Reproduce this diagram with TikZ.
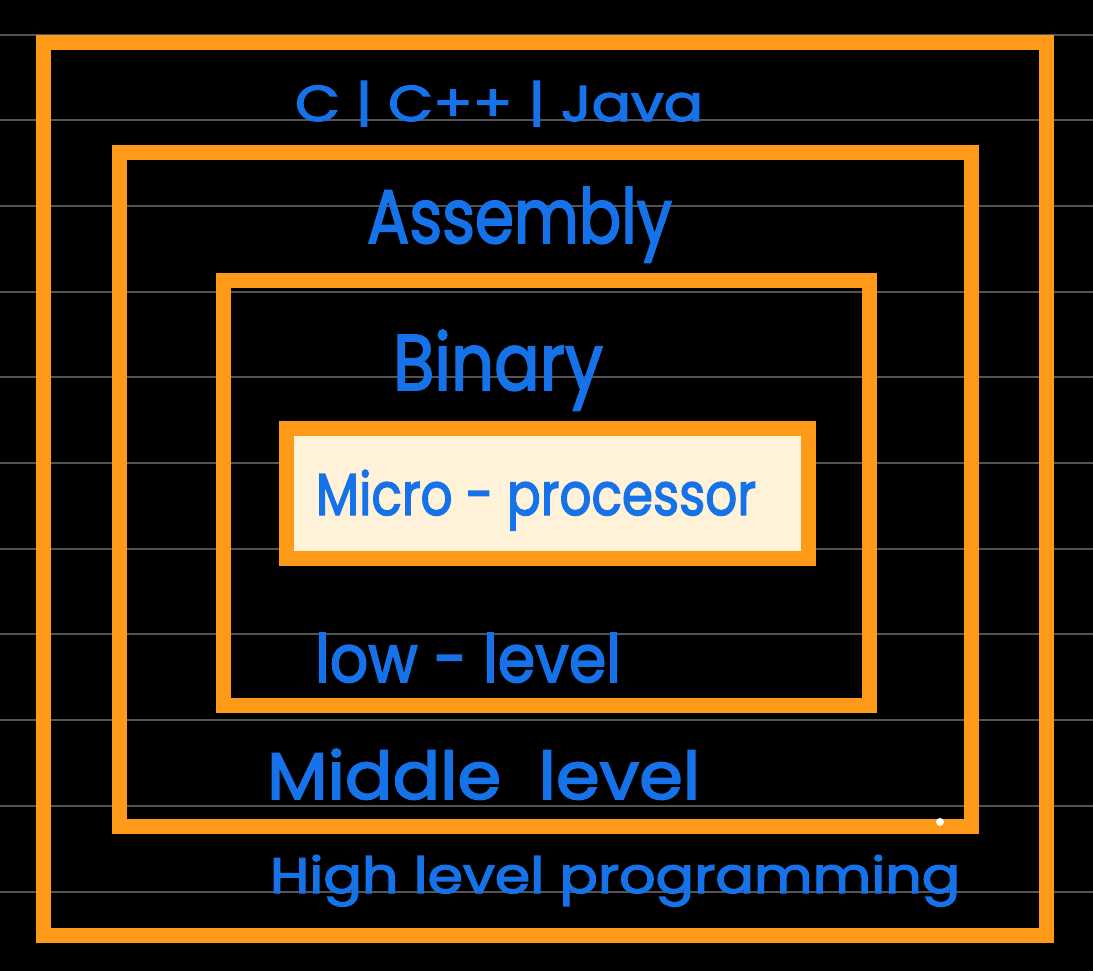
\documentclass[tikz,border=0pt]{standalone}
\usepackage{fontspec}
\usepackage{graphicx}
\newfontfamily\handfont[FakeBold=2.5]{Poppins}
\definecolor{frameorange}{RGB}{255,154,24}
\definecolor{inkblue}{RGB}{22,114,232}
\definecolor{creamfill}{RGB}{255,242,216}
\definecolor{ruleline}{RGB}{84,84,84}
\newlength{\pxu}
\setlength{\pxu}{0.75pt}
\begin{document}
\begin{tikzpicture}[x=0.75pt,y=-0.75pt,
  frame/.style={draw=frameorange,line width=11.25pt,line join=miter},
  rulestyle/.style={draw=ruleline,line width=1.5pt},
  label/.style={anchor=base west,inner sep=0pt,outer sep=0pt,text=inkblue,font=\handfont}]
\fill[black] (0,0) rectangle (1093,971);
\useasboundingbox (0,0) rectangle (1093,971);
% ruled notebook lines
\foreach \k in {0,...,10}{
  \draw[rulestyle] (0,{34.5+85.7*\k}) -- (1093,{34.5+85.7*\k});
}
% nested frames
\draw[frame] (43.5,42) rectangle (1046.5,935);
\draw[frame] (119,152) rectangle (971,826);
\draw[frame] (223.5,280) rectangle (869,705);
\draw[frame,fill=creamfill] (286.5,428.5) rectangle (808.5,558.5);
% labels
\node[label] (lang) at (295,121) {\resizebox{408\pxu}{40\pxu}{C | C++ | Java}};
\node[label] (asm) at (367,243) {\resizebox{305\pxu}{56\pxu}{Assembly}};
\node[label] (bin) at (393,390) {\resizebox{210\pxu}{60\pxu}{Binary}};
\node[label] (micro) at (316,515) {\resizebox{440\pxu}{45\pxu}{Micro - processor}};
\node[label] (low) at (315,682) {\resizebox{306\pxu}{49\pxu}{low - level}};
\node[label] (mid) at (267,799) {\resizebox{433\pxu}{50\pxu}{Middle\ \ level}};
\node[label] (high) at (270,893) {\resizebox{690\pxu}{38\pxu}{High level programming}};
% small white speck
\fill[white] (940,822) circle (4);
\end{tikzpicture}
\end{document}
